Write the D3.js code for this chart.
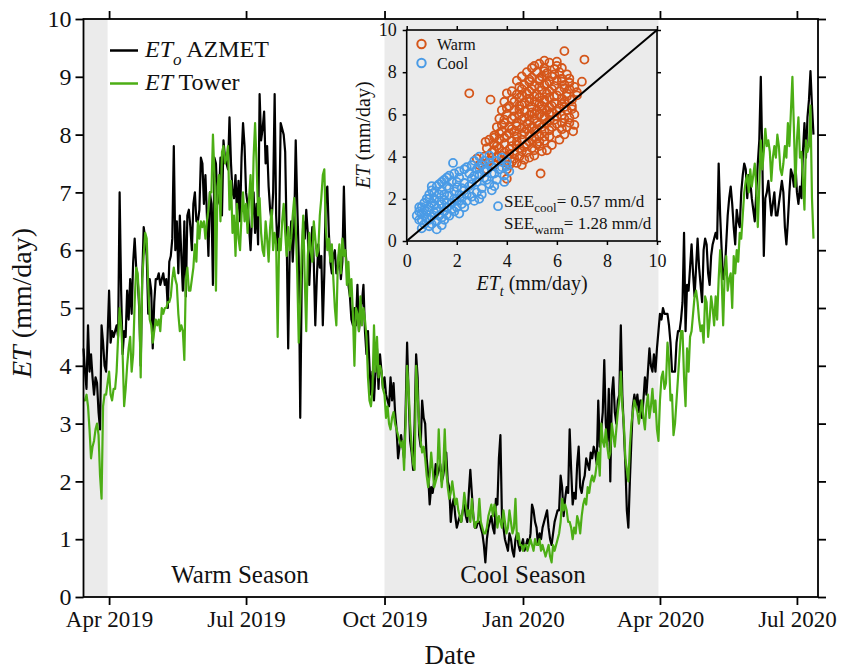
<!DOCTYPE html>
<html>
<head>
<meta charset="utf-8">
<script src="https://cdn.jsdelivr.net/npm/d3@7"></script>
<style>
  body { margin: 0; background: #fff; }
  svg { display: block; }
  text { font-family: "Liberation Serif", "Times New Roman", serif; fill: #111; }
</style>
</head>
<body>
<svg id="chart" width="843" height="672"></svg>
<script>
// ---- daily series, one value per day starting at seriesStart ----
const seriesStart = "2019-03-15";

// reference evapotranspiration from the AZMET station (mm/day)
const etoAzmet = [
  4.3,3.9,3.6,4.7,3.9,4.2,3.8,3.5,3.8,3.7,3.2,2.9,4.7,4.4,4.0,3.9,4.5,5.3,4.4,4.6,4.5,4.6,4.7,4.5,7.0,5.3,4.2,4.6,4.5,5.3,4.8,5.5,4.9,5.8,6.2,5.7,5.5,5.0,4.0,5.5,6.4,6.2,5.9,4.9,5.5,5.3,4.3,5.1,5.5,5.5,5.6,5.4,5.5,5.6,5.4,5.5,5.0,5.8,5.9,6.2,7.8,6.0,6.5,5.6,6.6,5.9,5.3,6.5,5.2,6.6,6.7,6.4,6.0,6.8,7.0,6.5,6.5,6.7,7.6,7.5,6.8,7.3,6.6,5.9,7.0,6.8,5.4,7.6,7.5,6.8,6.9,7.6,6.6,7.9,7.6,7.5,7.4,
  8.3,7.5,7.0,6.9,7.3,6.6,7.2,6.5,7.6,8.2,7.8,7.0,6.8,6.4,6.0,6.6,7.0,6.3,6.8,6.1,8.7,7.9,8.1,8.4,7.5,7.8,7.1,6.7,6.5,7.0,8.7,6.6,6.0,6.5,8.2,8.1,8.0,7.7,6.2,4.3,6.0,6.5,5.8,6.4,7.9,6.8,5.9,3.1,5.5,6.5,6.2,6.7,6.3,5.4,6.0,6.4,5.8,4.7,5.5,6.1,5.7,5.9,4.7,5.6,7.0,7.1,6.3,5.8,5.6,5.9,6.0,5.6,5.7,6.0,5.5,5.8,7.1,6.0,5.7,5.4,5.2,4.8,4.7,5.0,4.7,5.4,4.6,4.9,5.1,5.4,4.6,4.2,4.6,4.0,3.5,3.9,3.4,
  3.9,4.3,3.6,4.2,3.9,3.6,3.8,3.5,3.4,3.3,3.8,3.4,3.7,3.2,2.9,2.4,2.6,2.8,2.6,2.4,3.2,4.4,3.5,2.7,2.5,2.2,3.0,4.2,3.8,2.8,2.6,3.4,3.1,3.0,2.4,2.1,1.6,1.9,1.8,2.0,2.3,2.1,2.2,2.3,2.0,2.1,2.3,2.5,2.0,1.9,1.3,1.6,1.7,1.4,1.2,1.3,1.4,1.3,1.5,1.6,1.4,1.3,1.8,2.2,1.8,1.4,1.2,1.2,1.3,1.3,1.2,1.1,0.9,0.6,1.0,1.2,1.3,1.4,1.2,1.1,1.7,1.6,2.4,2.8,1.4,1.2,1.0,0.9,0.8,1.1,1.0,0.8,0.7,1.0,1.1,0.9,0.8,
  0.9,1.0,0.8,0.9,1.0,0.9,1.1,1.6,1.5,1.3,1.2,0.9,1.1,1.0,1.2,1.3,1.4,1.5,1.2,1.0,0.9,1.1,1.3,1.4,1.5,1.5,2.1,1.9,1.4,1.7,1.9,1.8,2.9,2.2,1.6,1.8,1.7,2.3,2.6,1.9,1.8,2.0,2.1,2.4,2.3,2.2,2.5,2.4,2.6,2.5,2.3,3.4,2.6,2.9,3.2,4.1,3.0,2.7,3.6,2.0,3.5,3.8,3.2,3.0,3.4,3.5,4.7,3.5,2.9,2.3,1.5,1.2,2.0,2.7,3.3,3.5,3.3,3.5,3.2,3.4,3.1,3.4,3.8,3.5,3.9,4.3,4.0,3.9,4.2,3.9,4.3,4.6,4.9,4.8,5.0,4.9,4.9,
  4.9,4.7,4.4,3.9,3.9,3.9,4.4,4.6,4.6,4.8,5.1,6.3,4.6,5.4,5.3,5.7,6.1,5.6,5.2,5.7,6.2,5.7,5.4,5.1,6.0,6.2,6.1,5.6,5.4,5.9,6.1,6.2,6.3,6.2,7.5,6.6,6.0,5.5,5.6,6.1,6.6,6.9,7.1,6.8,6.4,6.1,6.7,6.5,6.4,7.0,7.3,7.5,7.4,6.9,7.3,7.2,6.9,6.7,6.5,7.0,7.5,7.9,9.0,7.6,5.9,6.9,7.0,7.2,6.9,6.6,6.8,7.0,6.6,6.6,6.8,7.0,7.2,7.0,6.4,6.1,6.5,7.0,7.4,7.3,7.1,7.5,7.0,6.8,7.1,6.9,7.7,8.2,7.6,8.3,8.6,9.1,8.5,8.0
];

// evapotranspiration measured at the flux tower (mm/day)
const etTower = [
  3.4,3.4,3.5,3.3,2.9,2.4,2.6,2.7,2.9,3.0,2.8,2.1,1.7,3.3,3.5,3.5,3.7,3.9,3.5,3.4,3.6,3.6,3.9,4.5,5.0,4.7,4.2,3.3,3.6,4.0,4.3,4.5,3.9,4.2,5.1,5.7,5.6,5.1,3.8,5.5,5.9,6.3,6.2,5.4,4.8,4.7,4.4,4.6,4.8,4.7,4.8,4.6,5.0,4.9,5.0,5.0,5.1,5.1,5.2,5.5,5.7,5.5,5.4,4.9,4.6,4.7,4.6,4.1,5.5,5.7,5.3,5.3,5.5,5.7,6.1,5.8,6.5,6.2,6.5,6.4,6.5,6.2,6.5,6.7,7.0,7.0,8.0,7.3,5.3,7.1,7.3,6.5,7.7,7.8,7.5,7.6,7.8,
  6.7,7.2,6.3,6.6,5.9,6.8,6.2,6.0,6.6,7.0,6.5,6.8,6.3,6.9,7.3,6.4,7.6,8.2,7.5,6.6,6.9,6.3,6.0,5.9,6.5,6.2,5.8,6.4,6.7,6.0,6.3,6.1,4.5,6.2,6.0,6.5,6.8,6.3,5.9,6.4,6.0,6.2,6.6,6.9,6.4,5.6,4.4,5.1,6.0,6.6,5.5,4.6,5.9,6.3,6.0,5.8,6.5,6.2,5.9,6.0,6.6,6.9,7.3,7.4,6.4,6.0,6.2,5.8,6.1,5.5,5.0,4.7,5.8,6.1,5.6,6.2,5.9,6.0,5.4,5.8,5.2,5.5,4.9,4.0,5.0,4.9,4.6,5.2,4.7,5.0,4.8,4.5,3.8,3.4,3.3,3.6,4.7,
  3.9,4.5,3.8,4.0,3.9,3.6,3.5,3.1,3.3,3.0,2.9,3.1,3.2,3.0,2.9,2.8,2.7,2.6,2.7,2.2,3.0,4.0,3.6,3.0,2.6,2.3,2.2,4.0,3.5,3.0,2.7,2.5,2.6,2.4,2.1,1.9,2.1,2.5,2.2,1.9,2.0,2.1,2.9,2.3,1.9,2.2,2.9,2.2,1.9,1.7,1.8,2.0,1.8,1.6,1.7,1.5,1.4,1.3,1.5,1.8,1.6,1.4,1.5,1.3,1.7,1.4,1.2,1.3,1.3,1.7,1.3,1.2,1.1,1.1,1.2,1.4,1.5,1.6,1.4,1.6,1.5,1.2,1.4,1.3,1.2,1.5,1.3,1.1,1.2,1.5,1.3,1.1,1.2,1.7,1.0,1.1,0.9,
  0.9,0.8,0.9,0.9,0.8,0.9,1.0,0.9,0.8,1.0,0.9,0.9,1.0,0.8,0.9,0.8,0.7,0.8,0.9,0.7,0.6,0.9,0.8,0.9,1.0,1.1,1.3,1.7,1.5,1.6,1.5,1.3,1.3,1.2,1.0,1.2,1.1,1.4,1.3,1.1,1.4,1.6,1.7,1.6,1.9,1.8,2.0,2.1,2.0,2.1,2.3,2.5,2.1,3.0,2.7,2.6,2.9,2.6,2.4,2.5,3.0,2.8,2.6,2.9,3.2,3.4,3.9,3.3,3.0,2.4,2.2,2.0,2.6,3.0,3.2,3.4,3.3,3.2,3.0,3.2,3.4,3.1,2.9,3.3,3.5,3.1,3.3,3.6,3.2,3.4,2.9,2.7,3.4,3.8,3.9,3.6,3.7,
  4.4,4.1,3.4,3.5,2.8,3.0,3.4,3.8,4.2,4.6,4.6,3.8,3.3,4.3,3.9,4.5,4.6,4.9,5.2,5.3,5.1,4.8,4.6,4.7,4.4,5.2,5.1,4.5,4.8,5.2,5.0,4.7,5.2,4.8,5.5,6.0,5.5,4.7,5.6,5.9,5.3,5.5,5.6,5.0,5.9,5.6,6.0,5.8,6.3,6.2,6.6,7.0,7.2,7.3,7.0,7.4,7.1,7.3,7.5,7.1,6.4,7.1,7.9,7.4,7.7,8.1,7.8,7.9,7.7,7.2,7.6,7.8,7.6,8.0,7.8,7.4,7.3,7.5,7.8,7.6,8.2,7.8,8.4,9.0,8.1,7.1,7.9,8.3,7.6,7.7,7.2,6.7,7.9,7.7,7.8,8.5,6.9,6.2
];

// shaded cool-season periods
const coolPeriods = [["2019-03-15", "2019-03-31"], ["2019-10-01", "2020-03-31"]];
const axisDomain = ["2019-03-15", "2020-07-15"];
const dateTicks = ["2019-04-01", "2019-07-01", "2019-10-01", "2020-01-01", "2020-04-01", "2020-07-01"];
const dateTickLabels = ["Apr 2019", "Jul 2019", "Oct 2019", "Jan 2020", "Apr 2020", "Jul 2020"];
const etTicks = [0, 1, 2, 3, 4, 5, 6, 7, 8, 9, 10];
const seasonLabels = [["Warm Season", "2019-06-27"], ["Cool Season", "2020-01-01"]];

// scatter: [ET_t, ET] pairs for each season
const warmPts = [
  [5.3,8.4],[5.7,8.45],[6.0,8.3],[5.0,8.2],[5.5,8.2],[5.9,8.15],[6.2,8.2],
  [4.8,8.0],[5.2,8.0],[5.6,7.95],[6.1,8.0],[6.4,7.9],[4.6,7.8],[5.0,7.75],[5.4,7.8],[5.8,7.8],[6.2,7.7],
  [4.4,7.6],[4.9,7.55],[5.3,7.6],[5.7,7.55],[6.0,7.6],[6.5,7.5],[7.0,7.55],
  [4.7,7.4],[5.1,7.35],[5.5,7.4],[5.9,7.35],[6.3,7.4],[6.7,7.3],
  [4.2,7.1],[4.6,7.2],[5.0,7.2],[5.4,7.15],[5.8,7.2],[6.1,7.1],[6.5,7.2],
  [4.0,7.0],[4.4,6.95],[4.8,7.0],[5.2,6.95],[5.6,7.0],[6.0,6.9],[6.4,7.0],[6.8,6.9],
  [4.5,6.8],[4.9,6.75],[5.3,6.8],[5.7,6.8],[6.2,6.75],[6.6,6.7],
  [3.9,6.6],[4.3,6.6],[4.7,6.55],[5.1,6.6],[5.5,6.6],[5.9,6.55],[6.3,6.6],
  [4.1,6.4],[4.5,6.4],[5.0,6.35],[5.4,6.4],[5.8,6.4],[6.1,6.3],[6.6,6.4],
  [3.8,6.2],[4.3,6.2],[4.7,6.15],[5.2,6.2],[5.6,6.2],[6.0,6.15],[6.4,6.2],
  [4.0,6.0],[4.5,6.0],[4.9,5.95],[5.3,6.0],[5.7,6.0],[6.2,5.95],[6.7,6.0],
  [3.7,5.8],[4.2,5.8],[4.6,5.75],[5.1,5.8],[5.5,5.8],[5.9,5.75],[6.3,5.8],
  [3.9,5.6],[4.4,5.6],[4.8,5.55],[5.2,5.6],[5.6,5.6],[6.0,5.55],[6.5,5.6],
  [3.6,5.4],[4.1,5.4],[4.6,5.35],[5.0,5.4],[5.4,5.4],[5.8,5.4],[6.2,5.3],
  [3.8,5.2],[4.3,5.2],[4.7,5.15],[5.1,5.2],[5.5,5.2],[6.65,5.2],
  [3.5,5.0],[4.0,5.0],[4.4,4.95],[4.9,5.0],[5.3,5.0],[5.7,4.95],[6.3,5.05],
  [3.3,4.8],[3.7,4.8],[4.2,4.75],[4.6,4.8],[5.0,4.8],[5.5,4.75],[6.1,4.8],
  [3.5,4.6],[3.9,4.6],[4.4,4.55],[4.8,4.6],[5.2,4.6],[5.8,4.55],
  [3.2,4.4],[3.7,4.4],[4.1,4.35],[4.5,4.4],[5.0,4.4],[5.6,4.3],
  [3.4,4.2],[3.9,4.2],[4.3,4.15],[4.8,4.2],[5.4,4.25],
  [3.1,4.0],[3.6,4.0],[4.0,3.95],[4.5,4.0],[5.1,4.05],
  [3.3,3.8],[3.8,3.8],[4.2,3.75],[4.7,3.85],[2.9,3.6],[3.5,3.6],[4.1,3.6],[4.6,3.6],
  [3.2,3.4],[4.0,3.4],[5.35,3.2],[4.0,2.95],
  [2.5,7.0],[3.35,6.7],[6.3,9.0],[7.1,8.6],[3.15,4.7],[2.8,3.9],[3.0,3.7],
  [5.1,8.3],[5.5,8.05],[5.9,7.9],[4.9,7.65],[5.3,7.7],[5.6,7.45],[6.2,7.55],[4.5,7.3],[4.9,7.1],[5.3,7.3],
  [5.7,7.1],[6.3,7.25],[4.6,6.9],[5.1,6.85],[5.5,6.7],[5.9,6.85],[6.4,6.85],[4.2,6.7],[4.6,6.45],[4.9,6.6],
  [5.3,6.5],[5.7,6.35],[6.2,6.5],[4.0,6.3],[4.5,6.25],[5.0,6.1],[5.4,6.25],[5.8,6.1],[6.3,6.35],[4.3,5.9],
  [4.7,5.85],[5.1,6.05],[5.5,5.9],[6.0,5.9],[6.5,5.85],[3.9,5.75],[4.4,5.45],[4.9,5.7],[5.3,5.5],[5.7,5.7],
  [6.2,5.6],[3.8,5.5],[4.2,5.3],[4.8,5.3],[5.2,5.3],[5.7,5.25],[3.7,5.1],[4.1,5.1],[4.6,5.05],[5.1,4.9],
  [5.5,4.95],[6.0,5.1],[3.5,4.9],[3.9,4.9],[4.4,4.7],[4.9,4.7],[5.3,4.7],[3.6,4.5],[4.2,4.5],[4.7,4.45],
  [5.3,4.5],[3.5,4.3],[4.1,4.1],[4.6,4.25],[5.1,4.3],[3.8,4.05],[4.3,3.9],[3.4,3.95],[4.4,3.7],[4.9,3.95],
  [6.6,6.25],[6.8,7.05],[6.5,7.7],[6.0,8.5],[5.5,8.55],[6.7,5.5],[6.4,5.4]
];
const coolPts = [
  [2.9,4.0],[3.3,4.05],[3.8,3.95],[3.1,3.8],[3.6,3.8],[4.0,3.75],[1.85,3.7],
  [2.6,3.6],[3.0,3.6],[3.4,3.55],[2.3,3.4],[2.8,3.4],[3.2,3.35],[3.7,3.4],[4.1,3.3],
  [1.9,3.2],[2.5,3.2],[2.9,3.15],[3.4,3.2],[3.9,3.1],[1.6,3.0],[2.1,3.0],[2.6,2.95],[3.1,3.0],[3.6,2.9],
  [1.4,2.8],[1.8,2.8],[2.3,2.75],[2.8,2.8],[3.3,2.7],[1.2,2.6],[1.6,2.6],[2.0,2.55],[2.5,2.6],[3.0,2.5],[3.5,2.6],
  [1.0,2.4],[1.4,2.4],[1.9,2.35],[2.3,2.4],[2.8,2.3],[0.9,2.2],[1.3,2.2],[1.7,2.15],[2.1,2.2],[2.6,2.1],
  [0.8,2.0],[1.1,2.0],[1.5,1.95],[1.9,2.0],[2.4,1.9],[0.7,1.8],[1.0,1.8],[1.4,1.75],[1.8,1.8],[2.2,1.75],
  [0.6,1.6],[0.9,1.6],[1.2,1.55],[1.6,1.6],[2.0,1.6],[2.3,1.6],[0.5,1.4],[0.8,1.4],[1.1,1.35],[1.5,1.4],[1.9,1.4],
  [0.4,1.2],[0.7,1.2],[1.0,1.15],[1.3,1.2],[1.7,1.2],[0.6,1.0],[0.9,1.0],[1.2,0.95],[1.5,1.0],
  [0.7,0.8],[1.0,0.8],[1.4,0.75],[0.6,0.6],[1.2,0.55],
  [3.65,1.65],[2.7,1.9],[3.0,2.2],[2.1,1.3],[0.5,1.0],
  [0.5,1.6],[0.7,1.5],[0.8,1.1],[1.1,1.7],[1.3,1.9],[1.2,1.4],[1.6,1.8],[1.4,1.1],[0.9,2.0],[1.1,2.3],
  [1.5,2.2],[1.7,2.5],[2.0,2.8],[2.2,2.5],[2.4,2.2],[2.6,2.7],[2.7,3.1],[3.1,3.3],[3.2,2.9],[3.5,3.2],
  [3.8,3.5],[3.3,3.7],[2.9,3.45],[2.0,1.9],[1.8,1.5],[2.2,2.05],[1.6,1.25],[0.9,0.7],[0.6,1.3],[1.0,2.6],
  [1.3,2.7],[1.5,2.9],[1.7,3.1],[2.1,3.3],[2.4,3.5],[2.7,3.8],[4.0,3.55],[3.9,2.8],[3.4,2.4],[2.9,2.0]
];
const insetTicks = [0, 2, 4, 6, 8, 10];
const oneToOne = [0, 10];

// ---- drawing ----
const COL = { eto: "#000000", tower: "#4cae15", warm: "#d5561a", cool: "#4a9be6", band: "#ebebeb" };
const parseDay = d3.timeParse("%Y-%m-%d");
const t0 = parseDay(seriesStart);
const days = etoAzmet.map((v, i) => ({ date: d3.timeDay.offset(t0, i), eto: v, tower: etTower[i] }));

const svg = d3.select("#chart");
const M = { left: 83.5, right: 818, top: 19, bottom: 597 };

const x = d3.scaleTime().domain(axisDomain.map(parseDay)).range([M.left, M.right]);
const y = d3.scaleLinear().domain([0, 10]).range([M.bottom, M.top]);

// season shading
svg.append("g").selectAll("rect").data(coolPeriods).join("rect")
  .attr("x", d => x(parseDay(d[0])))
  .attr("width", d => x(parseDay(d[1])) - x(parseDay(d[0])))
  .attr("y", M.top).attr("height", M.bottom - M.top)
  .attr("fill", COL.band);

// time series
const lineOf = key => d3.line().x(d => x(d.date)).y(d => y(d[key]));
svg.append("path").datum(days).attr("d", lineOf("eto"))
  .attr("fill", "none").attr("stroke", COL.eto).attr("stroke-width", 2.2).attr("stroke-linejoin", "round");
svg.append("path").datum(days).attr("d", lineOf("tower"))
  .attr("fill", "none").attr("stroke", COL.tower).attr("stroke-width", 2.2).attr("stroke-linejoin", "round");

// axes on all four sides, ticks pointing out
function styleAxis(g, fontSize) {
  g.attr("font-family", null).attr("font-size", null);
  g.select(".domain").remove();
  g.selectAll(".tick line").attr("stroke", "#000").attr("stroke-width", 1.8);
  g.selectAll(".tick text").attr("font-size", fontSize).attr("fill", "#111");
}
const tickDates = dateTicks.map(parseDay);
svg.append("g").attr("transform", `translate(0,${M.bottom})`)
  .call(d3.axisBottom(x).tickValues(tickDates).tickFormat((d, i) => dateTickLabels[i]).tickSize(8).tickPadding(6))
  .call(g => styleAxis(g, 23));
svg.append("g").attr("transform", `translate(0,${M.top})`)
  .call(d3.axisTop(x).tickValues(tickDates).tickFormat("").tickSize(8))
  .call(g => styleAxis(g, 23));
svg.append("g").attr("transform", `translate(${M.left},0)`)
  .call(d3.axisLeft(y).tickValues(etTicks).tickFormat(d3.format("d")).tickSize(8).tickPadding(4))
  .call(g => styleAxis(g, 24));
svg.append("g").attr("transform", `translate(${M.right},0)`)
  .call(d3.axisRight(y).tickValues(etTicks).tickFormat("").tickSize(8))
  .call(g => styleAxis(g, 24));
svg.append("rect").attr("x", M.left).attr("y", M.top)
  .attr("width", M.right - M.left).attr("height", M.bottom - M.top)
  .attr("fill", "none").attr("stroke", "#000").attr("stroke-width", 1.8);

// axis titles
svg.append("text").attr("x", 450).attr("y", 664).attr("text-anchor", "middle")
  .attr("font-size", 27).text("Date");
const yt = svg.append("text").attr("transform", "translate(31,303) rotate(-90)")
  .attr("text-anchor", "middle").attr("font-size", 28);
yt.append("tspan").attr("font-style", "italic").text("ET");
yt.append("tspan").text(" (mm/day)");

// season labels
svg.append("g").selectAll("text").data(seasonLabels).join("text")
  .attr("x", d => x(parseDay(d[1]))).attr("y", 583)
  .attr("text-anchor", "middle").attr("font-size", 25).text(d => d[0]);

// legend
const legend = [
  { color: COL.eto, y: 50.5, name: "ET", sub: "o", rest: " AZMET" },
  { color: COL.tower, y: 83.5, name: "ET", sub: null, rest: " Tower" }
];
legend.forEach(L => {
  svg.append("line").attr("x1", 110).attr("x2", 138).attr("y1", L.y).attr("y2", L.y)
    .attr("stroke", L.color).attr("stroke-width", 2.5);
  const t = svg.append("text").attr("x", 145).attr("y", L.y + 6).attr("font-size", 24);
  t.append("tspan").attr("font-style", "italic").text(L.name);
  if (L.sub) {
    t.append("tspan").attr("font-style", "italic").attr("font-size", 17).attr("dy", 8).text(L.sub);
    t.append("tspan").attr("dy", -8).text(L.rest);
  } else {
    t.append("tspan").text(L.rest);
  }
});

// ---- inset scatter ----
const I = { left: 406.7, right: 657, top: 30, bottom: 241 };
const ix = d3.scaleLinear().domain([0, 10]).range([I.left, I.right]);
const iy = d3.scaleLinear().domain([0, 10]).range([I.bottom, I.top]);
const inset = svg.append("g");

inset.append("g").attr("transform", `translate(0,${I.bottom})`)
  .call(d3.axisBottom(ix).tickValues(insetTicks).tickSize(4).tickPadding(9))
  .call(g => styleAxis(g, 18));
inset.append("g").attr("transform", `translate(0,${I.top})`)
  .call(d3.axisTop(ix).tickValues(insetTicks).tickFormat("").tickSize(4))
  .call(g => styleAxis(g, 18));
inset.append("g").attr("transform", `translate(${I.left},0)`)
  .call(d3.axisLeft(iy).tickValues(insetTicks).tickSize(4).tickPadding(6))
  .call(g => styleAxis(g, 18));
inset.append("g").attr("transform", `translate(${I.right},0)`)
  .call(d3.axisRight(iy).tickValues(insetTicks).tickFormat("").tickSize(4))
  .call(g => styleAxis(g, 18));
inset.selectAll(".tick line").attr("stroke-width", 1.5);

const dot = (sel, pts, color) => sel.selectAll(null).data(pts).join("circle")
  .attr("cx", d => ix(d[0])).attr("cy", d => iy(d[1])).attr("r", 4)
  .attr("fill", "none").attr("stroke", color).attr("stroke-width", 1.8);
dot(inset.append("g"), warmPts, COL.warm);
dot(inset.append("g"), coolPts, COL.cool);

inset.append("line")
  .attr("x1", ix(oneToOne[0])).attr("y1", iy(oneToOne[0]))
  .attr("x2", ix(oneToOne[1])).attr("y2", iy(oneToOne[1]))
  .attr("stroke", "#000").attr("stroke-width", 2);

inset.append("rect").attr("x", I.left).attr("y", I.top)
  .attr("width", I.right - I.left).attr("height", I.bottom - I.top)
  .attr("fill", "none").attr("stroke", "#000").attr("stroke-width", 1.6);

// inset legend
[["Warm", COL.warm, 44], ["Cool", COL.cool, 63]].forEach(([name, color, cy]) => {
  inset.append("circle").attr("cx", 421.5).attr("cy", cy).attr("r", 4.2)
    .attr("fill", "none").attr("stroke", color).attr("stroke-width", 2);
  inset.append("text").attr("x", 437).attr("y", cy + 5.5).attr("font-size", 16).text(name);
});

// standard error of estimate
[["cool", "= 0.57 mm/d", 207], ["warm", "= 1.28 mm/d", 228.5]].forEach(([sub, rest, by]) => {
  const t = inset.append("text").attr("x", 504).attr("y", by).attr("font-size", 17);
  t.append("tspan").text("SEE");
  t.append("tspan").attr("font-size", 13).attr("dy", 5).text(sub);
  t.append("tspan").attr("dy", -5).text(rest);
});

// inset axis titles
const ixl = inset.append("text").attr("x", 532).attr("y", 290).attr("text-anchor", "middle").attr("font-size", 20);
ixl.append("tspan").attr("font-style", "italic").text("ET");
ixl.append("tspan").attr("font-style", "italic").attr("font-size", 14).attr("dy", 6).text("t");
ixl.append("tspan").attr("dy", -6).text(" (mm/day)");
const iyl = inset.append("text").attr("transform", "translate(370,135) rotate(-90)")
  .attr("text-anchor", "middle").attr("font-size", 20);
iyl.append("tspan").attr("font-style", "italic").text("ET");
iyl.append("tspan").text(" (mm/day)");
</script>
</body>
</html>
